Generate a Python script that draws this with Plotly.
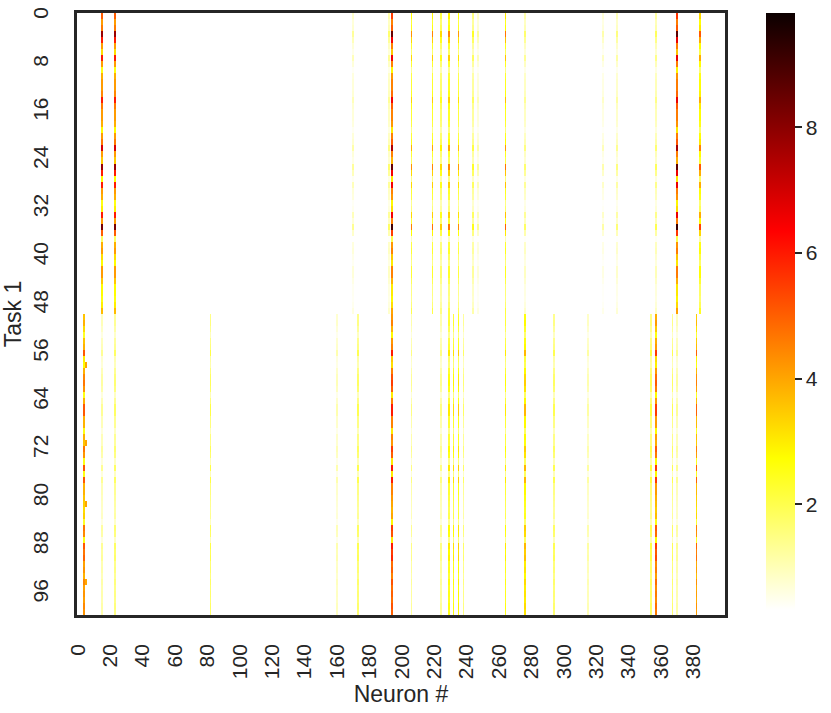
import numpy as np
import plotly.graph_objects as go

# Grid: 100 trials (rows) x 400 neurons (columns)
n_rows = 100
n_cols = 400
background = 0.32

# Activation profile shared by the strong neurons, rows 0-49 and rows 50-99
profile_top = [5.5, 4.5, 5.0, 8.5, 6.5, 4.5, 3.5, 6.5, 4.5, 2.8,
               4.2, 4.5, 4.5, 4.8, 6.5, 5.0, 4.5, 4.5, 4.2, 3.0,
               4.5, 5.0, 7.5, 4.5, 3.8, 8.5, 6.5, 3.0, 6.5, 4.5,
               4.2, 2.8, 3.2, 6.5, 4.5, 9.0, 5.5, 2.0, 4.2, 4.5,
               3.5, 3.0, 4.5, 4.5, 3.8, 3.0, 3.0, 2.8, 3.2, 4.0]
profile_bottom = [4.2, 4.5, 3.8, 2.8, 4.2, 4.5, 6.0, 3.5, 3.2, 4.5,
                  5.2, 5.5, 5.0, 3.0, 4.5, 6.0, 6.0, 4.5, 4.5, 3.0,
                  4.5, 4.2, 5.5, 5.0, 3.0, 6.0, 3.0, 6.0, 4.5, 4.5,
                  4.2, 4.0, 3.8, 4.0, 2.8, 5.5, 5.2, 3.0, 6.0, 5.5,
                  5.8, 4.8, 5.0, 4.5, 5.2, 4.8, 5.0, 4.8, 5.2, 5.0]

# Active neurons in the first half and their strength relative to the profile
top_cols = [15, 23, 170, 192, 194, 206, 219, 224, 229, 235,
            244, 247, 264, 276, 324, 333, 357, 370, 384]
top_scale = [0.92, 0.92, 0.15, 0.2, 1.0, 0.5, 0.52, 0.38, 0.52, 0.48,
             0.28, 0.15, 0.55, 0.2, 0.13, 0.18, 0.22, 1.02, 0.6]

# Active neurons in the second half
bottom_cols = [4, 15, 23, 82, 160, 173, 194, 206, 224, 229, 232,
               235, 238, 264, 276, 294, 315, 354, 357, 367, 370, 382]
bottom_scale = [0.85, 0.22, 0.3, 0.35, 0.18, 0.33, 1.0, 0.25, 0.25, 0.5, 0.52,
                0.57, 0.3, 0.5, 0.62, 0.33, 0.2, 0.35, 0.92, 0.33, 0.22, 0.82]

# A few isolated cells
spot_rows = [58, 71, 81, 94]
spot_cols = [5, 5, 5, 5]
spot_vals = [4.0, 4.0, 4.0, 4.0]

z_min, z_max = 0.32, 9.82

z = np.full((n_rows, n_cols), background)
for c, s in zip(top_cols, top_scale):
    z[:50, c] = np.maximum(np.array(profile_top) * s, background)
for c, s in zip(bottom_cols, bottom_scale):
    z[50:, c] = np.maximum(np.array(profile_bottom) * s, background)
for r, c, v in zip(spot_rows, spot_cols, spot_vals):
    z[r, c] = v
z = np.clip(z, z_min, z_max)

# matplotlib "hot", reversed
hot_r = [
    [0.0, "rgb(255,255,255)"],
    [0.253968, "rgb(255,255,0)"],
    [0.634921, "rgb(255,0,0)"],
    [1.0, "rgb(11,0,0)"],
]

font = "Arial, Liberation Sans, sans-serif"
ink = "#262626"

fig = go.Figure(
    go.Heatmap(
        z=z,
        x=list(range(n_cols)),
        y=list(range(n_rows)),
        colorscale=hot_r,
        zmin=z_min,
        zmax=z_max,
        colorbar=dict(
            thickness=29,
            lenmode="pixels",
            len=597,
            x=1.063,
            xanchor="left",
            xpad=0,
            y=1.0,
            yanchor="top",
            ypad=0,
            outlinewidth=0,
            tickvals=[2, 4, 6, 8],
            ticks="outside",
            ticklen=7,
            tickwidth=2,
            tickcolor=ink,
            tickfont=dict(size=21, color=ink, family=font),
        ),
    )
)

fig.update_layout(
    width=831,
    height=713,
    margin=dict(l=77, r=106, t=13, b=98, autoexpand=False),
    paper_bgcolor="white",
    plot_bgcolor="white",
    font=dict(family=font, color=ink),
)

fig.update_xaxes(
    tickvals=list(range(0, 381, 20)),
    tickangle=-90,
    ticks="outside",
    ticklen=18,
    tickcolor="white",
    tickfont=dict(size=21, color=ink),
    title=dict(text="Neuron #", font=dict(size=23, color=ink), standoff=8),
    showline=True,
    linewidth=2.5,
    linecolor=ink,
    mirror=True,
    showgrid=False,
    zeroline=False,
    automargin=False,
    range=[-0.5, n_cols - 0.5],
)
fig.update_yaxes(
    tickvals=list(range(0, 97, 8)),
    tickangle=-90,
    ticks="outside",
    ticklen=18,
    tickcolor="white",
    tickfont=dict(size=21, color=ink),
    title=dict(text="Task 1", font=dict(size=23, color=ink), standoff=6),
    showline=True,
    linewidth=2.5,
    linecolor=ink,
    mirror=True,
    showgrid=False,
    zeroline=False,
    automargin=False,
    range=[n_rows - 0.5, -0.5],
)

# drop the page's default body margin so the figure sits at the window origin
fig.write_html(
    "out.html",
    config={"displayModeBar": False},
    post_script="document.body.style.margin='0';",
)
